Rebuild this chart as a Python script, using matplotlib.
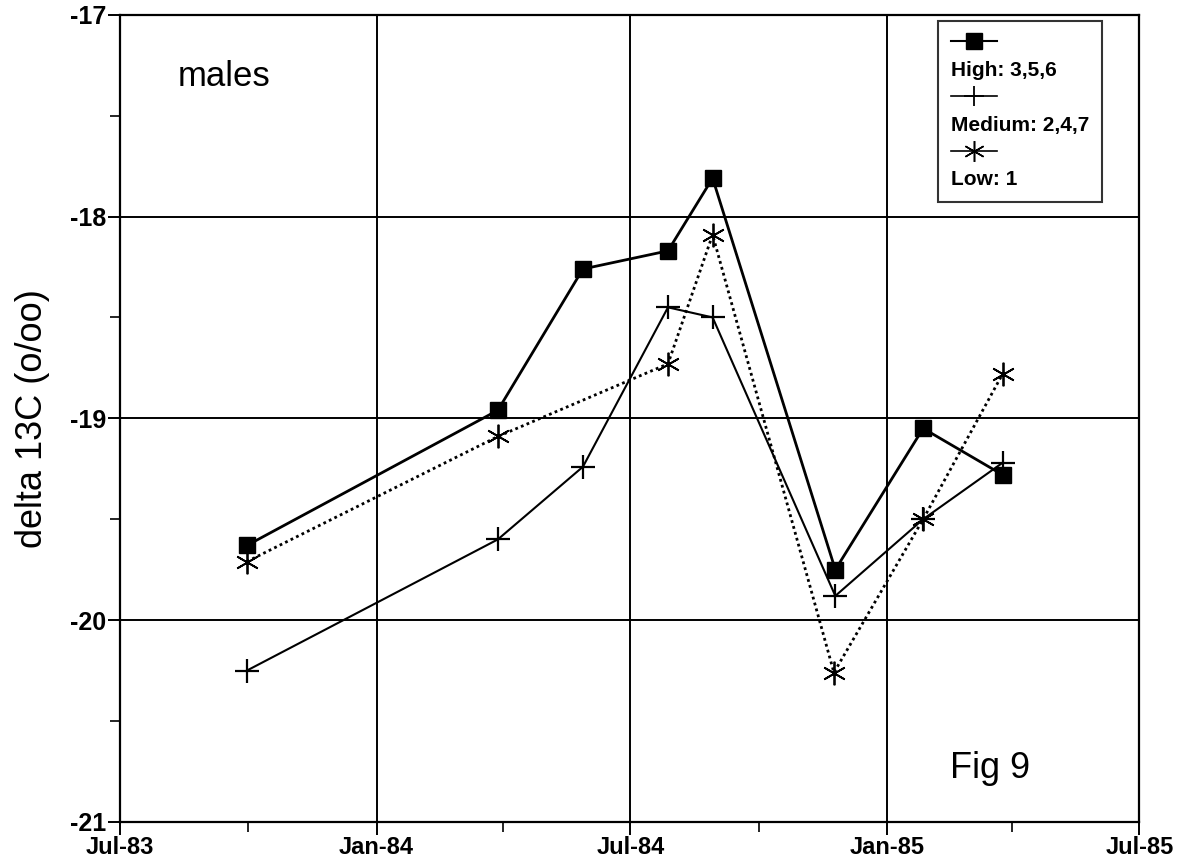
import datetime as dt

import matplotlib
matplotlib.use('Agg')
import matplotlib.pyplot as plt
import matplotlib.dates as mdates
from matplotlib.lines import Line2D

# sampling dates
high_dates = ["1983-09-30", "1984-03-28", "1984-05-28", "1984-07-28",
              "1984-08-29", "1984-11-25", "1985-01-27", "1985-03-25"]
high_vals = [-19.63, -18.96, -18.26, -18.17, -17.81, -19.75, -19.05, -19.28]

medium_dates = ["1983-09-30", "1984-03-28", "1984-05-28", "1984-07-28",
                "1984-08-29", "1984-11-25", "1985-01-27", "1985-03-25"]
medium_vals = [-20.25, -19.60, -19.24, -18.45, -18.50, -19.88, -19.50, -19.22]

low_dates = ["1983-09-30", "1984-03-28", "1984-07-28", "1984-08-29",
             "1984-11-24", "1985-01-27", "1985-03-25"]
low_vals = [-19.71, -19.09, -18.73, -18.09, -20.26, -19.50, -18.78]

legend_labels = ["High: 3,5,6", "Medium: 2,4,7", "Low: 1"]
y_ticks = [-21, -20, -19, -18, -17]
x_ticks = ["1983-07-01", "1984-01-01", "1984-07-01", "1985-01-01", "1985-07-01"]


def to_dates(strs):
    return [dt.datetime.strptime(s, "%Y-%m-%d") for s in strs]


plt.rcParams['font.family'] = ['Liberation Sans', 'DejaVu Sans']
plt.rcParams['axes.unicode_minus'] = False

fig = plt.figure(figsize=(11.88, 8.67), dpi=100)
fig.patch.set_facecolor("white")
ax = fig.add_axes([0.101, 0.052, 0.858, 0.931])

star = (6, 2, 0)
ax.plot(to_dates(low_dates), low_vals, color="black", linewidth=2,
        linestyle=(0, (1, 1.2)), marker=star, markersize=17, markeredgewidth=1.3,
        zorder=3)
ax.plot(to_dates(medium_dates), medium_vals, color="black", linewidth=1.5,
        marker="+", markersize=17, markeredgewidth=1.6, zorder=4)
ax.plot(to_dates(high_dates), high_vals, color="black", linewidth=2,
        marker="s", markersize=12, zorder=5)

ax.set_xlim(to_dates(x_ticks)[0], to_dates(x_ticks)[-1])
ax.set_ylim(y_ticks[0], y_ticks[-1])
ax.set_xticks(to_dates(x_ticks))
ax.xaxis.set_major_formatter(mdates.DateFormatter("%b-%y"))
ax.xaxis.set_minor_locator(mdates.MonthLocator(bymonth=[4, 10]))
ax.set_yticks(y_ticks)
ax.set_yticks([-20.5, -19.5, -18.5, -17.5], minor=True)

ax.grid(True, which="major", color="black", linewidth=1.4)
for s in ax.spines.values():
    s.set_linewidth(1.6)
    s.set_color("black")

ax.tick_params(axis="both", which="major", direction="out", length=9,
               width=1.4, pad=1)
ax.tick_params(axis="x", which="major", labelsize=17)
ax.tick_params(axis="y", which="major", labelsize=18)
ax.tick_params(axis="both", which="minor", direction="out", length=7, width=1.2)
for lbl in ax.get_xticklabels() + ax.get_yticklabels():
    lbl.set_fontweight("bold")

ax.set_ylabel("delta 13C (o/oo)", fontsize=26, labelpad=14)

ax.text(0.102, 0.924, "males", transform=ax.transAxes, fontsize=25,
        ha="center", va="center")
ax.text(0.854, 0.066, "Fig 9", transform=ax.transAxes, fontsize=26,
        ha="center", va="center")

# legend: sample line sits above its label
blank = Line2D([], [], linestyle="none")
handles = [
    Line2D([], [], color="black", linewidth=1.5, marker="s", markersize=11),
    blank,
    Line2D([], [], color="black", linewidth=1.2, marker="+", markersize=14,
           markeredgewidth=1.3),
    blank,
    Line2D([], [], color="black", linewidth=1.2, marker=star, markersize=15,
           markeredgewidth=1.1),
    blank,
]
labels = ["", legend_labels[0], "", legend_labels[1], "", legend_labels[2]]
leg = ax.legend(handles, labels, loc="upper right", bbox_to_anchor=(0.963, 0.992),
                fontsize=15, frameon=True, fancybox=False, handlelength=2.2,
                handletextpad=-2.2, labelspacing=0.4, borderpad=0.6,
                borderaxespad=0)
leg.get_frame().set_edgecolor("black")
leg.get_frame().set_linewidth(1.5)
for t in leg.get_texts():
    t.set_fontweight("bold")

fig.savefig("out.png", dpi=100, facecolor="white")
